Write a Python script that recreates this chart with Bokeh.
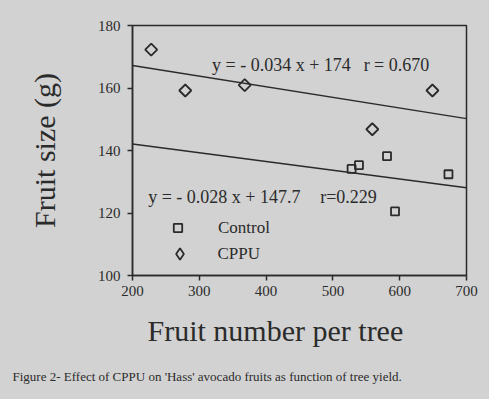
import numpy as np
from bokeh.plotting import figure
from bokeh.models import (ColumnDataSource, FixedTicker, Range1d, Legend, LegendItem, Label, Title)
from bokeh.embed import file_html
from bokeh.resources import INLINE

# ---- data ----
control_x = [528, 539, 581, 593, 673]
control_y = [134.1, 135.3, 138.2, 120.5, 132.4]
cppu_x = [228, 279, 368, 559, 649]
cppu_y = [172.3, 159.2, 160.9, 146.8, 159.2]

# fitted regression lines (slope, intercept) as printed on the chart
cppu_fit = (-0.034, 174.0)
control_fit = (-0.028, 147.7)
fit_x = [200, 700]

x_ticks = [200, 300, 400, 500, 600, 700]
y_ticks = [100, 120, 140, 160, 180]

BG = "#d2d2d2"
INK = "#2b2b2b"
FONT = "Liberation Serif"

p = figure(width=489, height=399, output_backend="svg", toolbar_location=None,
           x_range=Range1d(200, 700), y_range=Range1d(100, 180))
p.min_border_left = 132
p.min_border_right = 23
p.min_border_top = 25
p.min_border_bottom = 124
p.background_fill_color = BG
p.border_fill_color = BG
p.outline_line_color = INK
p.outline_line_width = 1.5
p.grid.visible = False

for ax in (p.xaxis[0], p.yaxis[0]):
    ax.axis_line_color = INK
    ax.axis_line_width = 1.5
    ax.major_tick_line_color = INK
    ax.major_tick_line_width = 1.5
    ax.major_tick_in = 0
    ax.major_tick_out = 5
    ax.minor_tick_line_color = None
    ax.major_label_text_font = FONT
    ax.major_label_text_font_size = "15px"
    ax.major_label_text_color = INK
    ax.axis_label_text_font = FONT
    ax.axis_label_text_font_size = "30px"
    ax.axis_label_text_font_style = "normal"
    ax.axis_label_text_color = INK

p.xaxis.ticker = FixedTicker(ticks=x_ticks)
p.yaxis.ticker = FixedTicker(ticks=y_ticks)
p.yaxis.axis_label = "Fruit size (g)"
p.xaxis.major_label_standoff = 5
p.yaxis.major_label_standoff = 7
p.yaxis.axis_label_standoff = 34

# regression lines
for slope, icpt in (cppu_fit, control_fit):
    ys = [icpt + slope * x for x in fit_x]
    p.line(fit_x, ys, line_color=INK, line_width=1.5)

src_c = ColumnDataSource(dict(x=control_x, y=control_y))
src_p = ColumnDataSource(dict(x=cppu_x, y=cppu_y))
r_c = p.scatter("x", "y", source=src_c, marker="square", size=8,
                fill_alpha=0, line_color=INK, line_width=1.8)
r_p = p.scatter("x", "y", source=src_p, marker="square", angle=np.pi / 4, size=8.5,
                fill_alpha=0, line_color=INK, line_width=1.8)
# legend key for CPPU (legend keys are drawn unrotated, so use a diamond marker;
# NaN position keeps it out of the plot area itself)
r_p_key = p.scatter(x=[np.nan], y=[np.nan], marker="diamond", fill_alpha=0,
                    line_color=INK, line_width=1.8)

common = dict(orientation="vertical", padding=0, margin=0, spacing=0,
              label_text_font=FONT, label_text_font_size="17px",
              label_text_color=INK, border_line_color=None,
              background_fill_alpha=0)
leg_c = Legend(items=[LegendItem(label="Control", renderers=[r_c])],
               location=(35, 37), glyph_width=21, glyph_height=21,
               label_height=21, label_standoff=30, **common)
leg_p = Legend(items=[LegendItem(label="CPPU", renderers=[r_p_key])],
               location=(32.5, 7), glyph_width=29, glyph_height=29,
               label_height=29, label_standoff=24, **common)
p.add_layout(leg_c)
p.add_layout(leg_p)

eq_style = dict(text_font=FONT, text_font_size="18px", text_color=INK,
                text_baseline="alphabetic")
p.add_layout(Label(x=319, y=167.5, text="y =  - 0.034 x + 174", **eq_style))
p.add_layout(Label(x=546, y=167.5, text="r = 0.670", **eq_style))
p.add_layout(Label(x=223.5, y=125.2, text="y =  - 0.028 x + 147.7", **eq_style))
p.add_layout(Label(x=481, y=125.2, text="r=0.229", **eq_style))

xlabel = Title(text="Fruit number per tree", align="left", offset=15, standoff=27,
               text_font=FONT, text_font_size="30px", text_color=INK,
               text_font_style="normal")
p.add_layout(xlabel, "below")

caption = Title(text="Figure 2- Effect of CPPU on 'Hass' avocado fruits as function of tree yield.",
                align="left", offset=-120, standoff=12,
                text_font=FONT, text_font_size="13px", text_color=INK,
                text_font_style="normal")
p.add_layout(caption, "below")

html = file_html(p, INLINE)
html = html.replace("</head>", "<style>body{background:%s;}</style></head>" % BG)
open("out.html", "w").write(html)
